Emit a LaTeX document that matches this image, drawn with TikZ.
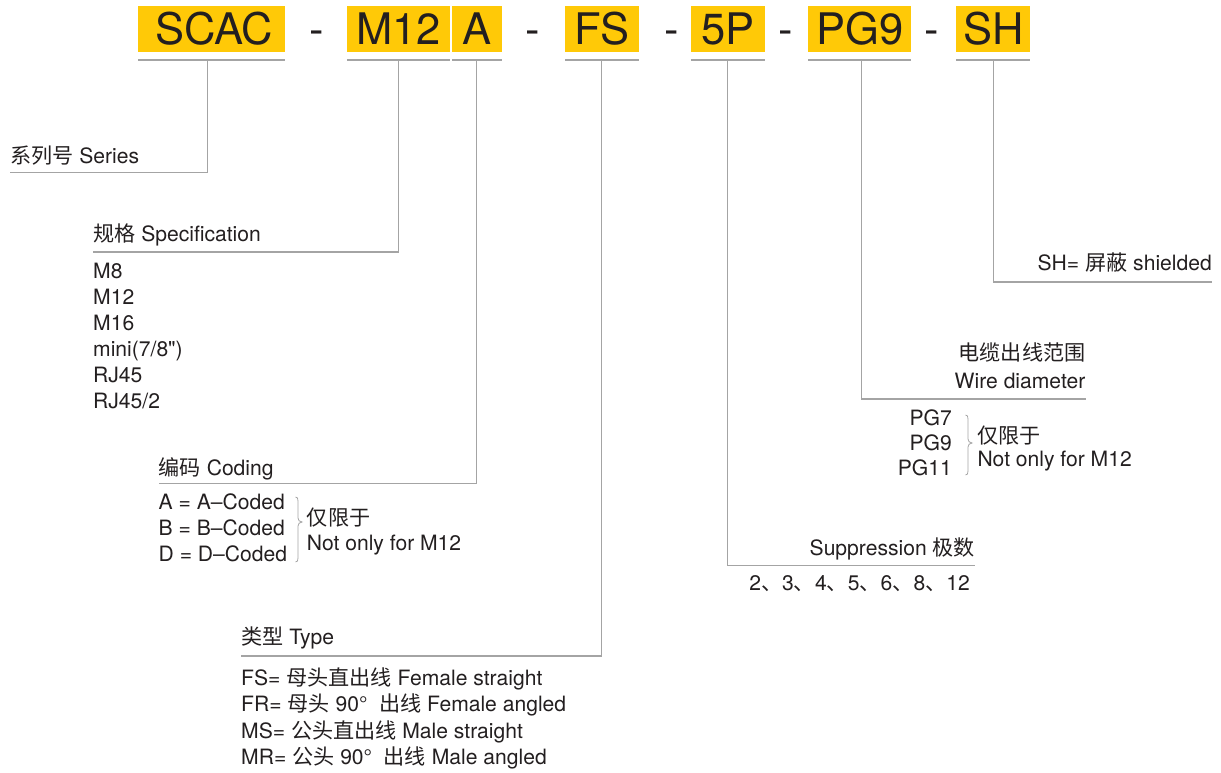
\documentclass[tikz,border=0pt]{standalone}
\usepackage{fontspec}
\setmainfont{TeX Gyre Heros}[Ligatures=TeXOff]
\newfontfamily\cjk{Noto Sans CJK SC}
\definecolor{hdr}{HTML}{FFC907}
\definecolor{ink}{HTML}{231F20}
\definecolor{rulec}{HTML}{A4A4A4}
\newcommand{\hfont}{\fontsize{43.5}{43.5}\selectfont}
\newcommand{\lfont}{\fontsize{21.1}{26}\selectfont}
\begin{document}
\begin{tikzpicture}[x=1pt,y=-1pt,
  hbox/.style={fill=hdr,text=ink,inner sep=0pt,font=\hfont,minimum height=46pt,text height=31pt,text depth=0pt,anchor=north west},
  dashn/.style={text=ink,inner sep=0pt,font=\hfont,anchor=base},
  lbl/.style={text=ink,inner sep=0pt,font=\lfont},
  conn/.style={draw=rulec,line width=1.3pt},
  brc/.style={draw=rulec,line width=0.8pt}]
\useasboundingbox (0,0) rectangle (1221,773);

% header boxes
\node[hbox,minimum width=147pt] (scac) at (138,6) {\hspace{5pt}SCAC};
\node[hbox,minimum width=103pt] (m12) at (347,6) {M12};
\node[hbox,minimum width=50pt] (a) at (452,6) {A};
\node[hbox,minimum width=74pt] (fs) at (565,6) {FS};
\node[hbox,minimum width=74pt] (p5) at (691,6) {5P};
\node[hbox,minimum width=103pt] (pg9) at (808,6) {PG9};
\node[hbox,minimum width=74pt] (sh) at (956,6) {SH};

\node[dashn] (d1) at (316.7,44.5) {-};
\node[dashn] (d2) at (532.7,44.5) {-};
\node[dashn] (d3) at (672,44.5) {-};
\node[dashn] (d4) at (785.7,44.5) {-};
\node[dashn] (d5) at (932,44.5) {-};

% underlines
\foreach \b in {scac,m12,a,fs,p5,pg9,sh}
  \draw[conn] ([yshift=-7.5pt]\b.south west) -- ([yshift=-7.5pt]\b.south east);

% connector start points
\coordinate (scac-u) at (207.3,59.5);
\coordinate (m12-u) at (398.3,59.5);
\coordinate (a-u) at (476.7,59.5);
\coordinate (fs-u) at (601.3,59.5);
\coordinate (p5-u) at (727.7,59.5);
\coordinate (pg9-u) at (861.7,59.5);
\coordinate (sh-u) at (993.3,59.5);

% label line ends
\coordinate (series-l) at (10,172.3);
\coordinate (spec-l) at (93,252);
\coordinate (coding-l) at (158.5,483.5);
\coordinate (type-l) at (241,656);
\coordinate (supp-r) at (975,565.5);
\coordinate (wire-r) at (1085.5,399);
\coordinate (shd-r) at (1212,282);

\draw[conn] (scac-u) |- (series-l);
\draw[conn] (m12-u) |- (spec-l);
\draw[conn] (a-u) |- (coding-l);
\draw[conn] (fs-u) |- (type-l);
\draw[conn] (p5-u) |- (supp-r);
\draw[conn] (pg9-u) |- (wire-r);
\draw[conn] (sh-u) |- (shd-r);

% Series
\node[lbl,anchor=base west] (series) at (10,163.3) {{\cjk 系列号} Series};

% Specification
\node[lbl,anchor=base west] (spec) at (93,241.7) {{\cjk 规格} Specification};
\node[lbl,anchor=base west] (s1) at (93,278) {M8};
\node[lbl,anchor=base west] (s2) at (93,304) {M12};
\node[lbl,anchor=base west] (s3) at (93,330) {M16};
\node[lbl,anchor=base west] (s4) at (93,356) {mini(7/8")};
\node[lbl,anchor=base west] (s5) at (93,382) {RJ45};
\node[lbl,anchor=base west] (s6) at (93,408) {RJ45/2};

% Coding
\node[lbl,anchor=base west] (coding) at (158.5,475) {{\cjk 编码} Coding};
\node[lbl,anchor=base west] (c1) at (158.5,509) {A = A–Coded};
\node[lbl,anchor=base west] (c2) at (158.5,535) {B = B–Coded};
\node[lbl,anchor=base west] (c3) at (158.5,561) {D = D–Coded};
\draw[brc] (295.5,497) .. controls (297.5,497) and (298,498.5) .. (298,501) -- (298,518) .. controls (298,520.5) and (299.5,521.5) .. (302,522) .. controls (299.5,522.5) and (298,523.5) .. (298,526) -- (298,558) .. controls (298,560.5) and (297.5,562) .. (295.5,562);
\node[lbl,anchor=base west] (c4) at (306.7,525) {\cjk 仅限于};
\node[lbl,anchor=base west] (c5) at (306.7,550) {Not only for M12};

% Type
\node[lbl,anchor=base west] (type) at (241,644.5) {{\cjk 类型} Type};
\node[lbl,anchor=base west] (t1) at (241,685) {FS= {\cjk 母头直出线} Female straight};
\node[lbl,anchor=base west] (t2) at (241,711.5) {FR= {\cjk 母头} 90°\hspace{0.55em}{\cjk 出线} Female angled};
\node[lbl,anchor=base west] (t3) at (241,738) {MS= {\cjk 公头直出线} Male straight};
\node[lbl,anchor=base west] (t4) at (241,764.5) {MR= {\cjk 公头} 90°\hspace{0.55em}{\cjk 出线} Male angled};

% Suppression
\node[lbl,anchor=base east] (supp) at (975,555) {Suppression {\cjk 极数}};
\node[lbl,anchor=base east] (p1) at (970,590) {2{\cjk 、}3{\cjk 、}4{\cjk 、}5{\cjk 、}6{\cjk 、}8{\cjk 、}12};

% Wire diameter
\node[lbl,anchor=base east] (wire1) at (1085.5,360) {\cjk 电缆出线范围};
\node[lbl,anchor=base east] (wire2) at (1085.5,388) {Wire diameter};
\node[lbl,anchor=base east] (g1) at (952,425) {PG7};
\node[lbl,anchor=base east] (g2) at (952,450) {PG9};
\node[lbl,anchor=base east] (g3) at (952,475) {PG11};
\draw[brc] (965.5,415) .. controls (967.5,415) and (968,416.5) .. (968,419) -- (968,439) .. controls (968,441.5) and (969.5,442.5) .. (972,443) .. controls (969.5,443.5) and (968,444.5) .. (968,447) -- (968,471) .. controls (968,473.5) and (967.5,475) .. (965.5,475);
\node[lbl,anchor=base west] (g4) at (977.3,443.3) {\cjk 仅限于};
\node[lbl,anchor=base west] (g5) at (977.3,466.7) {Not only for M12};

% Shielded
\node[lbl,anchor=base east] (shd) at (1212,270) {SH= {\cjk 屏蔽} shielded};
\end{tikzpicture}
\end{document}
